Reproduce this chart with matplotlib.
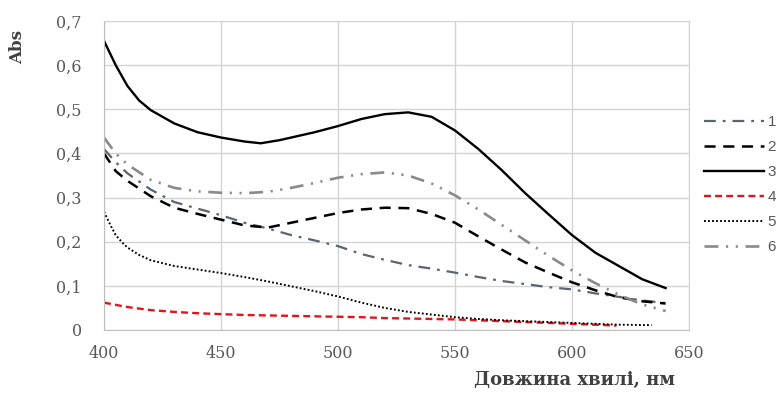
import matplotlib
matplotlib.use("Agg")
import matplotlib.pyplot as plt

plt.rcParams['lines.scale_dashes'] = False

# ---- data ----
x1 = [400, 405, 410, 420, 430, 440, 450, 460, 470, 480, 490, 500, 510, 520, 530, 540, 550, 560, 570, 580, 590, 600, 610, 620, 630, 640]
y1 = [0.41, 0.38, 0.355, 0.318, 0.29, 0.275, 0.26, 0.243, 0.23, 0.215, 0.203, 0.19, 0.172, 0.159, 0.147, 0.139, 0.13, 0.12, 0.111, 0.104, 0.097, 0.092, 0.083, 0.075, 0.067, 0.061]

x2 = [400, 405, 410, 420, 430, 440, 450, 460, 470, 480, 490, 500, 510, 520, 530, 540, 550, 560, 570, 580, 590, 600, 610, 620, 630, 640]
y2 = [0.40, 0.36, 0.338, 0.303, 0.277, 0.263, 0.25, 0.237, 0.232, 0.243, 0.254, 0.265, 0.273, 0.277, 0.276, 0.263, 0.243, 0.212, 0.182, 0.153, 0.13, 0.108, 0.09, 0.074, 0.065, 0.06]

x3 = [400, 405, 410, 415, 420, 430, 440, 450, 460, 467, 475, 480, 490, 500, 510, 520, 530, 540, 550, 560, 570, 580, 590, 600, 610, 620, 630, 640]
y3 = [0.655, 0.60, 0.553, 0.52, 0.498, 0.468, 0.448, 0.436, 0.427, 0.423, 0.43, 0.436, 0.448, 0.462, 0.478, 0.489, 0.493, 0.483, 0.452, 0.41, 0.362, 0.31, 0.262, 0.215, 0.175, 0.145, 0.115, 0.095]

x4 = [400, 410, 420, 430, 440, 450, 460, 470, 480, 490, 500, 510, 520, 530, 540, 550, 560, 570, 580, 590, 600, 610, 619]
y4 = [0.062, 0.052, 0.045, 0.041, 0.038, 0.036, 0.034, 0.033, 0.032, 0.031, 0.030, 0.029, 0.027, 0.026, 0.025, 0.024, 0.022, 0.02, 0.018, 0.016, 0.014, 0.012, 0.01]

x5 = [400, 403, 405, 408, 410, 415, 420, 430, 440, 450, 460, 470, 480, 490, 500, 510, 520, 530, 540, 550, 560, 570, 580, 590, 600, 610, 620, 634]
y5 = [0.268, 0.235, 0.215, 0.197, 0.187, 0.17, 0.158, 0.145, 0.137, 0.129, 0.12, 0.11, 0.099, 0.088, 0.076, 0.062, 0.05, 0.041, 0.035, 0.029, 0.025, 0.022, 0.02, 0.018, 0.016, 0.014, 0.012, 0.011]

x6 = [400, 405, 410, 420, 430, 440, 450, 460, 470, 480, 490, 500, 510, 520, 530, 540, 550, 560, 570, 580, 590, 600, 610, 620, 630, 640]
y6 = [0.436, 0.40, 0.375, 0.34, 0.322, 0.314, 0.311, 0.31, 0.313, 0.322, 0.333, 0.345, 0.353, 0.357, 0.35, 0.332, 0.305, 0.273, 0.238, 0.203, 0.168, 0.135, 0.106, 0.08, 0.058, 0.043]

labels = ["1", "2", "3", "4", "5", "6"]
xticks = [400, 450, 500, 550, 600, 650]
yticks = [0, 0.1, 0.2, 0.3, 0.4, 0.5, 0.6, 0.7]
yticklabels = ["0", "0,1", "0,2", "0,3", "0,4", "0,5", "0,6", "0,7"]

fig = plt.figure(figsize=(7.82, 3.94), dpi=100)
ax = fig.add_axes([104/782, 64/394, 585/782, 309/394])

ax.plot(x1, y1, color="#5b6473", lw=1.6, dashes=(8.5, 5, 2, 5), label=labels[0])
ax.plot(x2, y2, color="black", lw=1.8, dashes=(8, 5.5), label=labels[1])
ax.plot(x3, y3, color="black", lw=1.7, label=labels[2])
ax.plot(x4, y4, color="#e3151a", lw=1.7, dashes=(5, 3), label=labels[3])
ax.plot(x5, y5, color="black", lw=1.4, dashes=(1.3, 1.6), label=labels[4])
ax.plot(x6, y6, color="#8a8a8a", lw=1.9, dashes=(10, 5.5, 1.5, 5.5, 1.5, 5.5), label=labels[5])

ax.set_xlim(400, 650)
ax.set_ylim(0, 0.7)
ax.set_xticks(xticks)
ax.set_yticks(yticks)
ax.set_yticklabels(yticklabels)
ax.grid(True, color="#d4d4d4", lw=1)
ax.set_axisbelow(True)
for s in ax.spines.values():
    s.set_color("#d4d4d4")
ax.spines['left'].set_color("#bfbfbf")
ax.spines['bottom'].set_color("#bfbfbf")
ax.tick_params(length=0, labelsize=11.5, labelcolor="#595959")
ax.tick_params(axis="y", pad=16)
ax.tick_params(axis="x", pad=11)
for t in ax.get_xticklabels() + ax.get_yticklabels():
    t.set_fontfamily("DejaVu Serif")

fig.text(575/782, 1 - 380/394, "Довжина хвилі, нм", ha="center", va="center",
         fontsize=13, fontweight="bold", family="DejaVu Serif", color="#404040")
fig.text(18/782, 1 - 47/394, "Abs", ha="center", va="center", rotation=90,
         fontsize=12, fontweight="bold", family="DejaVu Serif", color="#404040")

leg = ax.legend(loc="upper left", bbox_to_anchor=(704/782, 1 - 115/394),
                bbox_transform=fig.transFigure, frameon=False, handlelength=3.9,
                handletextpad=0.25, labelspacing=0.72, borderpad=0, borderaxespad=0,
                prop={"family": "Liberation Sans", "size": 11})
for t in leg.get_texts():
    t.set_color("#595959")

fig.savefig("out.png", dpi=100)
